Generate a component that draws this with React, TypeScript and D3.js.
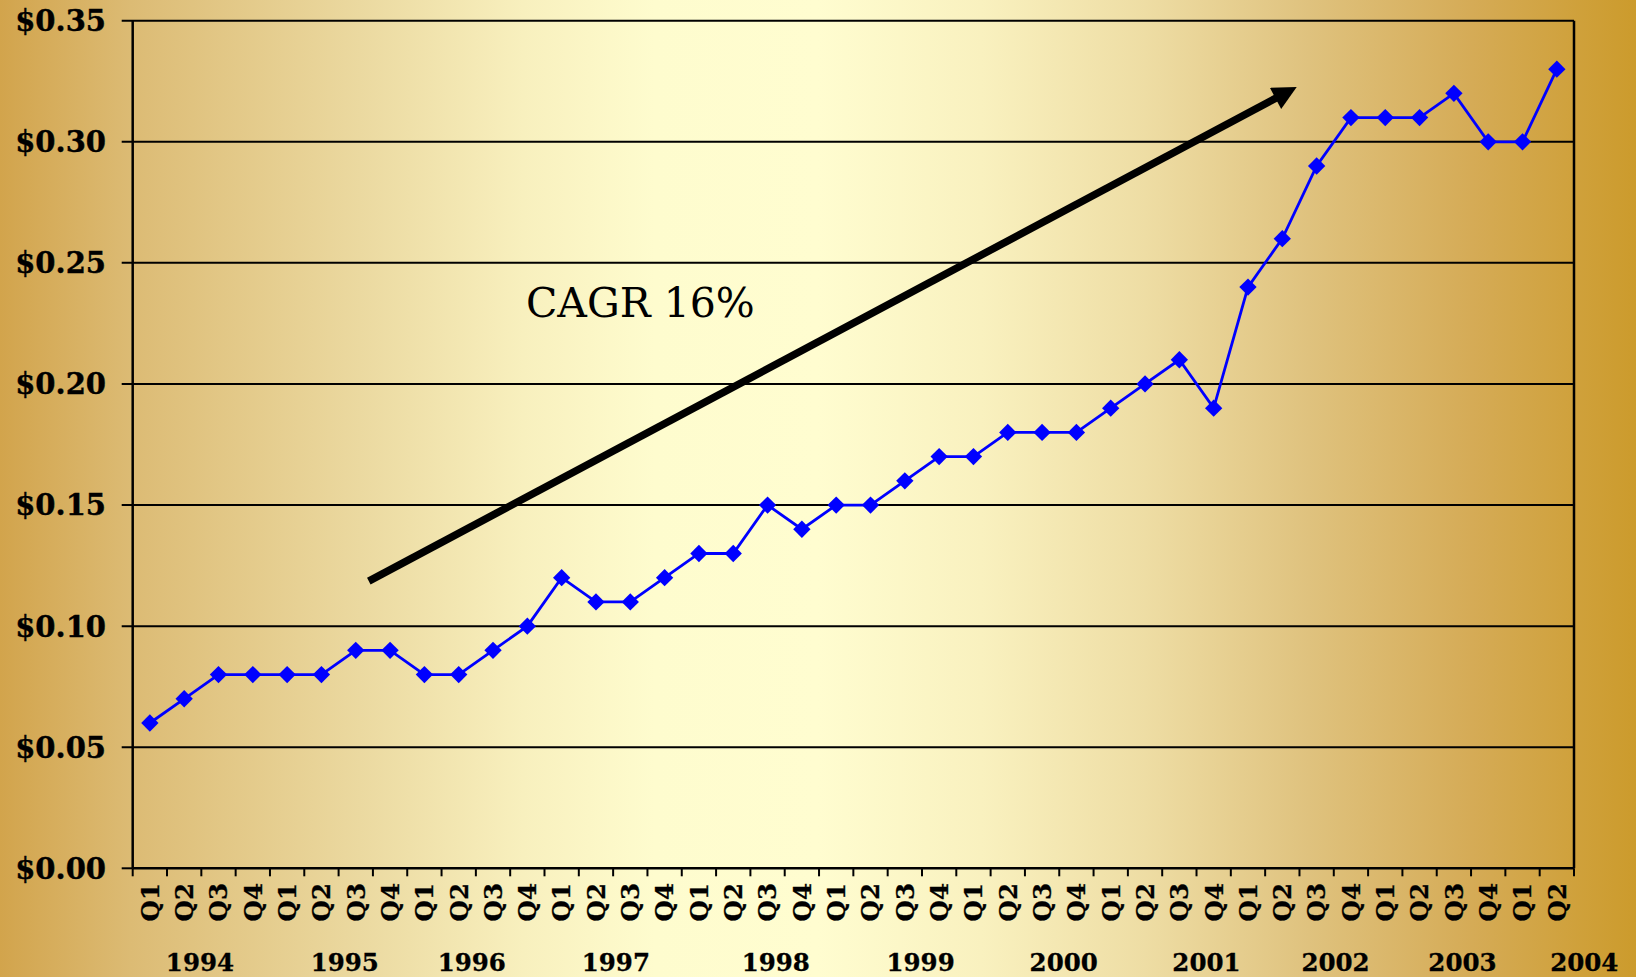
import React from "react";
import * as d3 from "d3";

const W = 1636;
const H = 977;

// Categories
const years = ["1994", "1995", "1996", "1997", "1998", "1999", "2000", "2001", "2002", "2003", "2004"];
const quarterLabels = [
  "Q1", "Q2", "Q3", "Q4", "Q1", "Q2", "Q3", "Q4", "Q1", "Q2", "Q3", "Q4",
  "Q1", "Q2", "Q3", "Q4", "Q1", "Q2", "Q3", "Q4", "Q1", "Q2", "Q3", "Q4",
  "Q1", "Q2", "Q3", "Q4", "Q1", "Q2", "Q3", "Q4", "Q1", "Q2", "Q3", "Q4",
  "Q1", "Q2", "Q3", "Q4", "Q1", "Q2",
];
// Series values (dividend per quarter)
const values = [
  0.06, 0.07, 0.08, 0.08,
  0.08, 0.08, 0.09, 0.09,
  0.08, 0.08, 0.09, 0.10,
  0.12, 0.11, 0.11, 0.12,
  0.13, 0.13, 0.15, 0.14,
  0.15, 0.15, 0.16, 0.17,
  0.17, 0.18, 0.18, 0.18,
  0.19, 0.20, 0.21, 0.19,
  0.24, 0.26, 0.29, 0.31,
  0.31, 0.31, 0.32, 0.30,
  0.30, 0.33,
];
// Y tick labels
const yTicks = [0, 0.05, 0.1, 0.15, 0.2, 0.25, 0.3, 0.35];
// Year label positions, in quarter units from the start of the axis
const yearLabelAt = [1.96, 6.18, 9.88, 14.08, 18.74, 22.96, 27.13, 31.29, 35.05, 38.75, 42.3];
// Trend arrow annotation (quarter units, value units)
const arrowFrom = { q: 6.88, v: 0.1186 };
const arrowTo = { q: 33.92, v: 0.3226 };
const annotationText = "CAGR 16%";

const FONT = "'DejaVu Serif', serif";

export default function App() {
  const left = 132.7, right = 1574, top = 20.7, bottom = 868.3;

  const x = d3.scaleBand<number>().domain(d3.range(values.length)).range([left, right]).padding(0);
  const xq = d3.scaleLinear().domain([0, values.length]).range([left, right]);
  const y = d3.scaleLinear().domain([0, 0.35]).range([bottom, top]);
  const cx = (i: number) => (x(i) as number) + x.bandwidth() / 2;

  const linePath = d3.line<number>().x((_, i) => cx(i)).y((d) => y(d))(values) || "";
  const diamond = d3.symbol().type(d3.symbolSquare).size(150)() || "";

  // arrow geometry
  const ax1 = xq(arrowFrom.q), ay1 = y(arrowFrom.v);
  const ax2 = xq(arrowTo.q), ay2 = y(arrowTo.v);
  const len = Math.hypot(ax2 - ax1, ay2 - ay1);
  const ux = (ax2 - ax1) / len, uy = (ay2 - ay1) / len;
  const headLen = 24, headHalf = 12;
  const bx = ax2 - ux * headLen, by = ay2 - uy * headLen;
  const head = [
    [ax2, ay2],
    [bx - uy * headHalf, by + ux * headHalf],
    [bx + uy * headHalf, by - ux * headHalf],
  ];

  return (
    <svg
      width={W}
      height={H}
      style={{ position: "absolute", left: 0, top: 0, display: "block" }}
      fontFamily={FONT}
    >
      <defs>
        <linearGradient id="bg" x1="0" x2="1" y1="0" y2="0">
          <stop offset="0%" stopColor="#D2A44C" />
          <stop offset="8%" stopColor="#DCBB74" />
          <stop offset="22%" stopColor="#EBD9A0" />
          <stop offset="32%" stopColor="#F8F0BE" />
          <stop offset="40%" stopColor="#FEFCCE" />
          <stop offset="50%" stopColor="#FFFDD0" />
          <stop offset="60%" stopColor="#F9F1BF" />
          <stop offset="70%" stopColor="#EEDDA4" />
          <stop offset="80%" stopColor="#DFC27E" />
          <stop offset="90%" stopColor="#D5AB56" />
          <stop offset="100%" stopColor="#CC9B2C" />
        </linearGradient>
      </defs>
      <rect x={0} y={0} width={W} height={H} fill="url(#bg)" />

      {/* gridlines */}
      {yTicks.map((t) => (
        <line key={"g" + t} x1={left - 11} x2={t === 0 ? left : right} y1={y(t)} y2={y(t)} stroke="#000" strokeWidth={2} />
      ))}
      {/* right border */}
      <line x1={right} x2={right} y1={top} y2={bottom} stroke="#000" strokeWidth={2.5} />
      {/* axes */}
      <line x1={left} x2={left} y1={top} y2={bottom} stroke="#000" strokeWidth={2.5} />
      <line x1={left} x2={right} y1={bottom} y2={bottom} stroke="#000" strokeWidth={2.5} />

      {/* x ticks */}
      {d3.range(values.length + 1).map((i) => (
        <line key={"t" + i} x1={xq(i)} x2={xq(i)} y1={bottom} y2={bottom + 8} stroke="#000" strokeWidth={2} />
      ))}

      {/* y labels */}
      {yTicks.map((t) => (
        <text key={"yl" + t} x={106} y={y(t)} dy="0.36em" textAnchor="end" fontSize={29} fontWeight="bold" fill="#000" stroke="#000" strokeWidth={0.4}>
          {d3.format("$.2f")(t)}
        </text>
      ))}

      {/* quarter labels */}
      {quarterLabels.map((q, i) => (
        <text
          key={"q" + i}
          transform={`translate(${cx(i)},${883}) rotate(-90)`}
          dy="0.36em"
          textAnchor="end"
          fontSize={24.5}
          fontWeight="bold"
          fill="#000"
          stroke="#000"
          strokeWidth={0.3}
        >
          {q}
        </text>
      ))}

      {/* year labels */}
      {years.map((yr, i) => (
        <text key={"y" + yr} x={xq(yearLabelAt[i])} y={971} textAnchor="middle" fontSize={24.5} fontWeight="bold" fill="#000" stroke="#000" strokeWidth={0.3}>
          {yr}
        </text>
      ))}

      {/* arrow */}
      <line x1={ax1} y1={ay1} x2={bx + ux * 2} y2={by + uy * 2} stroke="#000" strokeWidth={7.5} />
      <polygon points={head.map((p) => p.join(",")).join(" ")} fill="#000" />

      {/* annotation */}
      <text x={526} y={317} fontSize={41} fill="#000">
        {annotationText}
      </text>

      {/* series */}
      <path d={linePath} fill="none" stroke="#0000FF" strokeWidth={2.8} />
      {values.map((v, i) => (
        <path key={"m" + i} d={diamond} transform={`translate(${cx(i)},${y(v)}) rotate(45)`} fill="#0000FF" />
      ))}
    </svg>
  );
}
